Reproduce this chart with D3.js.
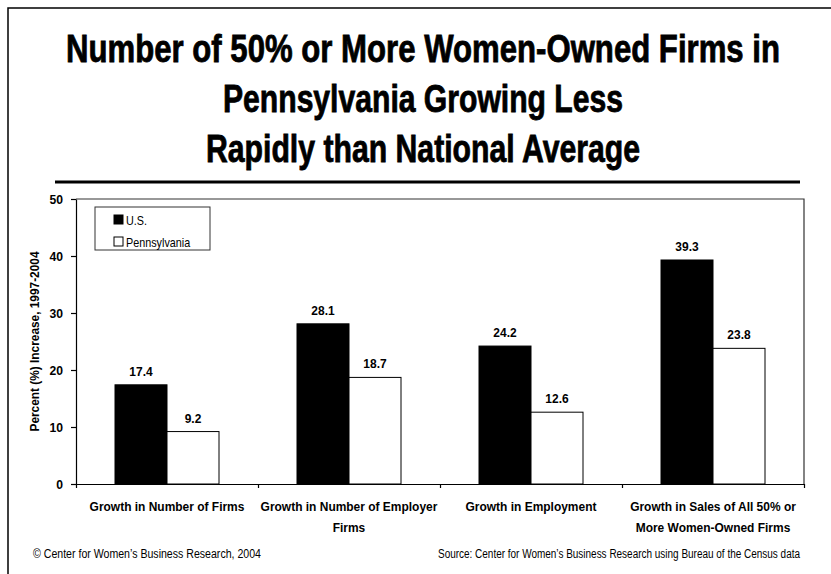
<!DOCTYPE html>
<html>
<head>
<meta charset="utf-8">
<script src="https://cdn.jsdelivr.net/npm/d3@7"></script>
<style>
  body { margin: 0; background: #fff; }
  svg text { font-family: "Liberation Sans", Arial, sans-serif; fill: #000; }
</style>
</head>
<body>
<div id="chart"></div>
<script>
var titleLines = ["Number of 50% or More Women-Owned Firms in", "Pennsylvania Growing Less", "Rapidly than National Average"];
var categories = [
  ["Growth in Number of Firms"],
  ["Growth in Number of Employer", "Firms"],
  ["Growth in Employment"],
  ["Growth in Sales of All 50% or", "More Women-Owned Firms"]
];
var seriesNames = ["U.S.", "Pennsylvania"];
var usValues = [17.4, 28.1, 24.2, 39.3];
var paValues = [9.2, 18.7, 12.6, 23.8];
var yTicks = [0, 10, 20, 30, 40, 50];
var yLabel = "Percent (%) Increase, 1997-2004";
var footLeft = "\u00a9 Center for Women\u2019s Business Research, 2004";
var footRight = "Source: Center for Women\u2019s Business Research using Bureau of the Census data";

(function() {

  var width = 831,
      height = 574,
      plot = {left: 76, right: 804, top: 199, bottom: 484};

  var colors = {"U.S.": "#000", "Pennsylvania": "#fff"};
  var titleWidths = [714, 400, 434];

  var rows = categories.map(function(c, i) {
    return {index: i, label: c, values: [
      {series: "U.S.", value: usValues[i]},
      {series: "Pennsylvania", value: paValues[i]}
    ]};
  });

  // squeeze text horizontally to imitate the condensed face of the original
  function squeeze(sel, k) {
    sel.each(function() {
      var w = this.getComputedTextLength();
      d3.select(this)
          .attr("textLength", w * k)
          .attr("lengthAdjust", "spacingAndGlyphs");
    });
  }

  var svg = d3.select("#chart").append("svg")
      .attr("width", width)
      .attr("height", height);

  // outer frame (left and top only)
  svg.append("path")
      .attr("d", "M8," + height + "V8H" + width)
      .attr("fill", "none")
      .attr("stroke", "#000")
      .attr("stroke-width", 1.5);

  svg.append("g").selectAll("text")
      .data(titleLines)
    .enter().append("text")
      .attr("x", 423)
      .attr("y", function(d, i) { return 62 + i * 50; })
      .attr("text-anchor", "middle")
      .attr("textLength", function(d, i) { return titleWidths[i]; })
      .attr("lengthAdjust", "spacingAndGlyphs")
      .attr("stroke", "#000")
      .attr("stroke-width", 0.8)
      .style("font-size", "38px")
      .style("font-weight", "bold")
      .text(function(d) { return d; });

  svg.append("line")
      .attr("x1", 55).attr("x2", 800)
      .attr("y1", 182).attr("y2", 182)
      .attr("stroke", "#000")
      .attr("stroke-width", 3);

  var x0 = d3.scaleBand()
      .domain(d3.range(categories.length))
      .range([plot.left, plot.right]);

  var x1 = d3.scaleBand()
      .domain(seriesNames)
      .range([0, x0.bandwidth()])
      .paddingOuter(0.75);

  var xEdge = d3.scaleLinear()
      .domain([0, categories.length])
      .range([plot.left, plot.right]);

  var y = d3.scaleLinear()
      .domain([0, 50])
      .range([plot.bottom, plot.top]);

  // plot area frame
  svg.append("path")
      .attr("d", "M" + plot.left + "," + plot.top + "H" + plot.right + "V" + plot.bottom)
      .attr("fill", "none")
      .attr("stroke", "#333")
      .attr("stroke-width", 1.2);

  var groups = svg.append("g").selectAll("g")
      .data(rows)
    .enter().append("g")
      .attr("transform", function(d) { return "translate(" + x0(d.index) + ",0)"; });

  groups.selectAll("rect")
      .data(function(d) { return d.values; })
    .enter().append("rect")
      .attr("x", function(d) { return x1(d.series); })
      .attr("y", function(d) { return y(d.value); })
      .attr("width", x1.bandwidth())
      .attr("height", function(d) { return y(0) - y(d.value); })
      .attr("fill", function(d) { return colors[d.series]; })
      .attr("stroke", "#000")
      .attr("stroke-width", 1);

  groups.selectAll(".value")
      .data(function(d) { return d.values; })
    .enter().append("text")
      .attr("class", "value")
      .attr("x", function(d) { return x1(d.series) + x1.bandwidth() / 2; })
      .attr("y", function(d) { return y(d.value) - 9; })
      .attr("text-anchor", "middle")
      .style("font-size", "13px")
      .style("font-weight", "bold")
      .text(function(d) { return d3.format(".1f")(d.value); })
      .call(squeeze, 0.92);

  var yAxis = svg.append("g")
      .attr("transform", "translate(" + plot.left + ",0)")
      .call(d3.axisLeft(y).tickValues(yTicks).tickSize(5).tickSizeOuter(0).tickPadding(8));

  svg.append("g")
      .attr("transform", "translate(0," + plot.bottom + ")")
      .call(d3.axisBottom(xEdge).tickValues(d3.range(categories.length + 1)).tickSize(4).tickSizeOuter(0).tickFormat(""));

  svg.selectAll(".domain, .tick line")
      .attr("stroke", "#000")
      .attr("stroke-width", 1.2);

  yAxis.selectAll("text")
      .style("font-family", null)
      .style("font-size", "13.5px")
      .style("font-weight", "bold")
      .call(squeeze, 0.9);

  var labelLines = [];
  rows.forEach(function(r) {
    r.label.forEach(function(t, i) { labelLines.push({index: r.index, line: i, text: t}); });
  });

  svg.append("g").selectAll("text")
      .data(labelLines)
    .enter().append("text")
      .attr("x", function(d) { return x0(d.index) + x0.bandwidth() / 2; })
      .attr("y", function(d) { return 511 + d.line * 21; })
      .attr("text-anchor", "middle")
      .style("font-size", "13px")
      .style("font-weight", "bold")
      .text(function(d) { return d.text; })
      .call(squeeze, 0.92);

  svg.append("text")
      .attr("transform", "translate(39," + (plot.top + plot.bottom) / 2 + ")rotate(-90)")
      .attr("text-anchor", "middle")
      .attr("textLength", 180)
      .attr("lengthAdjust", "spacingAndGlyphs")
      .style("font-size", "12.5px")
      .style("font-weight", "bold")
      .text(yLabel);

  // legend
  var legend = svg.append("g")
      .attr("transform", "translate(95,207)");

  legend.append("rect")
      .attr("width", 115)
      .attr("height", 43)
      .attr("fill", "#fff")
      .attr("stroke", "#333");

  var item = legend.selectAll(".item")
      .data(seriesNames)
    .enter().append("g")
      .attr("class", "item")
      .attr("transform", function(d, i) { return "translate(19," + (8 + i * 22) + ")"; });

  item.append("rect")
      .attr("width", 9)
      .attr("height", 9)
      .attr("fill", function(d) { return colors[d]; })
      .attr("stroke", "#000");

  item.append("text")
      .attr("x", 12)
      .attr("y", 9.5)
      .style("font-size", "13px")
      .text(function(d) { return d; })
      .call(squeeze, 0.83);

  svg.append("text")
      .attr("x", 33)
      .attr("y", 558)
      .attr("textLength", 228)
      .attr("lengthAdjust", "spacingAndGlyphs")
      .style("font-size", "12px")
      .text(footLeft);

  svg.append("text")
      .attr("x", 800)
      .attr("y", 558)
      .attr("text-anchor", "end")
      .attr("textLength", 362)
      .attr("lengthAdjust", "spacingAndGlyphs")
      .style("font-size", "12px")
      .text(footRight);

})();
</script>
</body>
</html>
